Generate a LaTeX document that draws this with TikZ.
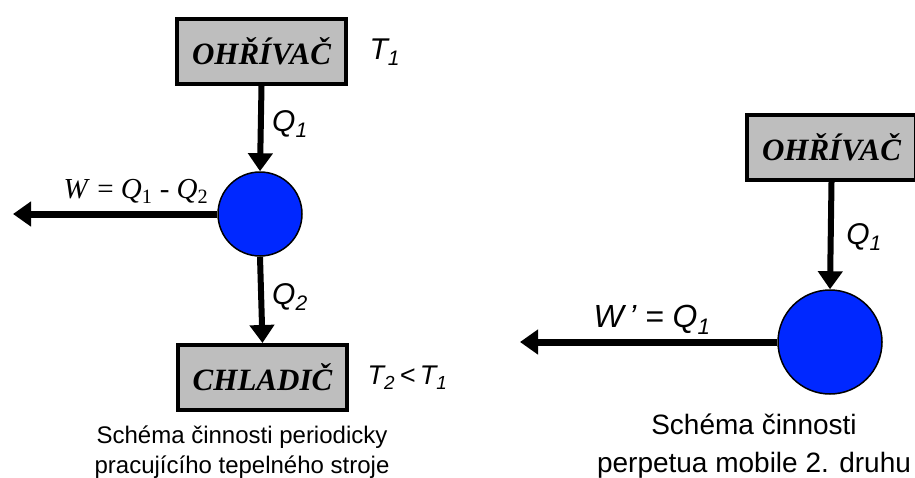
\documentclass[tikz,border=0pt]{standalone}
\usepackage{fontspec}
\setmainfont{Liberation Serif}
\setsansfont{Liberation Sans}
\usetikzlibrary{arrows.meta}

\definecolor{boxgray}{RGB}{190,190,190}
\definecolor{engineblue}{RGB}{0,40,255}

\tikzset{
  reservoir/.style={draw, line width=4pt, fill=boxgray, minimum width=169pt, minimum height=65pt, inner sep=0pt,
    font=\rmfamily\bfseries\itshape\fontsize{31}{33}\selectfont},
  engine/.style={circle, draw, line width=1.5pt, fill=engineblue, inner sep=0pt},
  flow/.style={line width=6pt, -{Triangle[length=18pt,width=24pt]}},
  quantity/.style={font=\sffamily\itshape\fontsize{30}{32}\selectfont},
  caption/.style={align=center, font=\sffamily\fontsize{24}{30}\selectfont}
}

\begin{document}
\begin{tikzpicture}[x=1pt, y=-1pt]
  \useasboundingbox (0,0) rectangle (915,477);

  % -- Periodic heat engine --
  \node[reservoir] (heatA) at (261.5,51.5) {OHŘÍVAČ};
  \node[quantity, anchor=west] (tempA) at (366,52) {\textit{T}\textsubscript{1}};

  \node[engine, minimum size=84pt] (engA) at (260,214) {};
  \draw[flow] (heatA.south) -- (engA.north);
  \node[quantity] (qinA) at (290,124) {\textit{Q}\textsubscript{1}};

  \coordinate (workA) at (13,214);
  \draw[flow, line width=7pt] (engA.west) -- (workA);
  \node[font=\rmfamily\fontsize{29}{31}\selectfont] (workAlbl) at (136,191)
    {\textit{W} = \textit{Q}\textsubscript{1} - \textit{Q}\textsubscript{2}};

  \node[reservoir] (coolA) at (262.5,377.5) {CHLADIČ};
  \draw[flow] (engA.south) -- (coolA.north);
  \node[quantity] (qoutA) at (290,297) {\textit{Q}\textsubscript{2}};
  \node[quantity, anchor=west, font=\sffamily\itshape\fontsize{27}{29}\selectfont] (tempB) at (364,378)
    {\textit{T}\textsubscript{2}\,\textless\,\textit{T}\textsubscript{1}};

  \node[caption] (capA) at (242,452) {Schéma činnosti periodicky\\pracujícího tepelného stroje};

  % -- Perpetuum mobile of the second kind --
  \node[reservoir] (heatB) at (831.5,147.5) {OHŘÍVAČ};
  \node[engine, minimum size=104pt] (engB) at (830,342) {};
  \draw[flow] (heatB.south) -- (engB.north);
  \node[quantity] (qinB) at (864,237) {\textit{Q}\textsubscript{1}};

  \coordinate (workB) at (520,342);
  \draw[flow, line width=7pt] (engB.west) -- (workB);
  \node[quantity, font=\sffamily\itshape\fontsize{32}{34}\selectfont] (workBlbl) at (652,320)
    {\textit{W\,'} = \textit{Q}\textsubscript{1}};

  \node[caption, font=\sffamily\fontsize{28}{38}\selectfont] (capB) at (754,446) {Schéma činnosti\\perpetua mobile 2. druhu};

\end{tikzpicture}
\end{document}
